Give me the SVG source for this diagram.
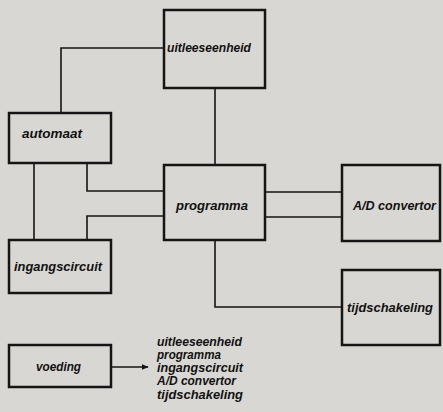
<svg xmlns="http://www.w3.org/2000/svg" width="443" height="412" viewBox="0 0 443 412">
<defs>
<style>
.box{fill:none;stroke:#151515;stroke-width:2.5}
.ln{fill:none;stroke:#151515;stroke-width:1.6}
.t{font-family:"Liberation Sans",Arial,sans-serif;font-weight:bold;font-style:italic;font-size:12px;fill:#111}
</style>
<marker id="ah" viewBox="0 0 10 10" refX="9" refY="5" markerWidth="7" markerHeight="7" orient="auto" markerUnits="userSpaceOnUse"><path d="M0,1 L10,5 L0,9 z" fill="#151515"/></marker>
</defs>
<rect width="443" height="412" fill="#d9d7d3"/>
<g id="connectors">
<polyline class="ln" points="164,48 61,48 61,113"/>
<line class="ln" x1="215" y1="88" x2="215" y2="165"/>
<polyline class="ln" points="87,163 87,191 164,191"/>
<line class="ln" x1="34" y1="163" x2="34" y2="240"/>
<polyline class="ln" points="87,240 87,216 164,216"/>
<line class="ln" x1="265" y1="192" x2="342" y2="192"/>
<line class="ln" x1="265" y1="217" x2="342" y2="217"/>
<polyline class="ln" points="215,240 215,307 342,307"/>
<line class="ln" x1="112" y1="367" x2="148" y2="367" marker-end="url(#ah)"/>
</g>
<g id="uitleeseenheid"><rect class="box" x="164" y="10" width="101" height="78"/><text class="t" x="167" y="52" textLength="84" lengthAdjust="spacingAndGlyphs">uitleeseenheid</text></g>
<g id="automaat"><rect class="box" x="9" y="113" width="102" height="50"/><text class="t" x="22" y="138" textLength="60" lengthAdjust="spacingAndGlyphs">automaat</text></g>
<g id="programma"><rect class="box" x="164" y="165" width="101" height="75"/><text class="t" x="176" y="210" textLength="72" lengthAdjust="spacingAndGlyphs">programma</text></g>
<g id="ad"><rect class="box" x="342" y="165" width="98" height="76"/><text class="t" x="353" y="210" textLength="83" lengthAdjust="spacingAndGlyphs">A/D convertor</text></g>
<g id="ingangscircuit"><rect class="box" x="9" y="240" width="102" height="53"/><text class="t" x="14" y="271" textLength="88" lengthAdjust="spacingAndGlyphs">ingangscircuit</text></g>
<g id="tijdschakeling"><rect class="box" x="342" y="270" width="98" height="75"/><text class="t" x="347" y="312" textLength="86" lengthAdjust="spacingAndGlyphs">tijdschakeling</text></g>
<g id="voeding"><rect class="box" x="9" y="345" width="102" height="42"/><text class="t" x="36" y="371" textLength="45" lengthAdjust="spacingAndGlyphs">voeding</text></g>
<g id="list">
<text class="t" x="157" y="346" textLength="85" lengthAdjust="spacingAndGlyphs">uitleeseenheid</text>
<text class="t" x="157" y="359" textLength="64" lengthAdjust="spacingAndGlyphs">programma</text>
<text class="t" x="157" y="372" textLength="86" lengthAdjust="spacingAndGlyphs">ingangscircuit</text>
<text class="t" x="157" y="385" textLength="79" lengthAdjust="spacingAndGlyphs">A/D convertor</text>
<text class="t" x="157" y="399" textLength="86" lengthAdjust="spacingAndGlyphs">tijdschakeling</text>
</g>
</svg>
